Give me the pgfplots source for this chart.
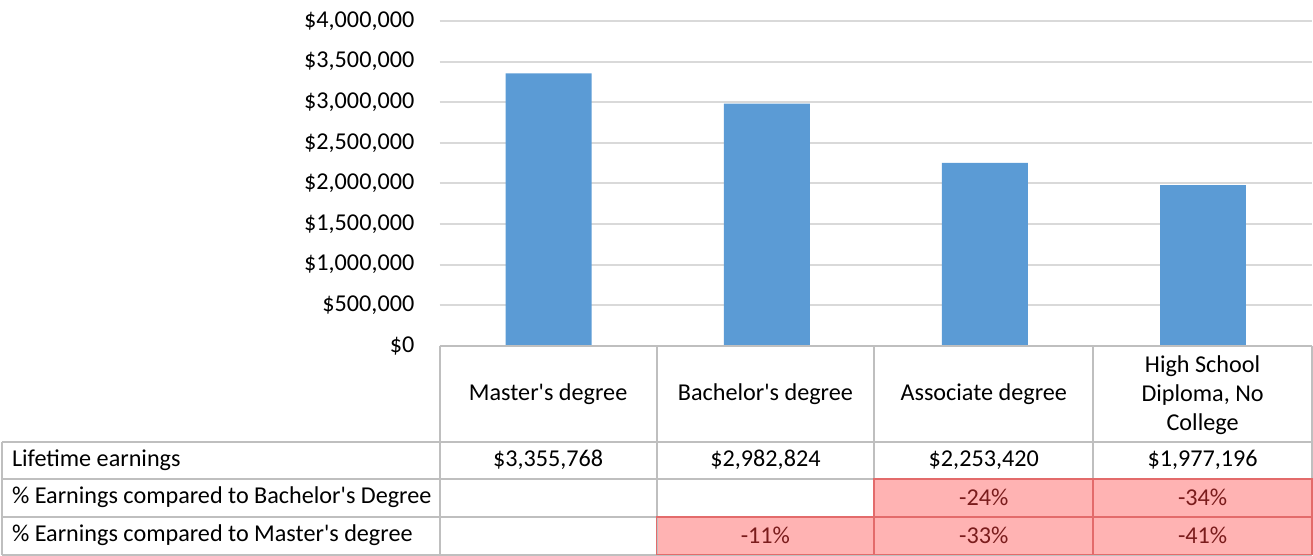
\documentclass[border=0pt]{standalone}
\usepackage{pgfplots}
\pgfplotsset{compat=1.18}
\usepackage{fontspec}
\setmainfont{Carlito}
\definecolor{barblue}{HTML}{5B9BD5}
\definecolor{gridgray}{HTML}{D9D9D9}
\definecolor{tabgray}{HTML}{BFBFBF}
\definecolor{pinkfill}{HTML}{FFB3B3}
\definecolor{pinkedge}{HTML}{E36B6B}
\definecolor{darkred}{HTML}{7A1C1C}
\newcommand{\q}{\textquotesingle}
\begin{document}
\begin{tikzpicture}[font=\fontsize{12.1}{14.3}\selectfont]
\begin{axis}[name=ax, width=436.5pt, height=162.5pt, scale only axis,
  xmin=-0.5, xmax=3.5, ymin=0, ymax=4000000,
  axis line style={draw=none}, xtick=\empty,
  ytick={0,500000,1000000,1500000,2000000,2500000,3000000,3500000,4000000},
  yticklabels={{\$0},{\$500,000},{\$1,000,000},{\$1,500,000},{\$2,000,000},{\$2,500,000},{\$3,000,000},{\$3,500,000},{\$4,000,000}},
  yticklabel style={font=\fontsize{12.1}{14}\selectfont, anchor=east, inner sep=0pt, xshift=-12.5pt},
  ymajorgrids, grid style={gridgray, line width=1pt}, major tick length=0pt,
  ybar, bar width=43pt, clip=false, scaled y ticks=false]
\addplot[fill=barblue, draw=none] coordinates {(0,3355768) (1,2982824) (2,2253420) (3,1977196)};
\end{axis}
\begin{scope}[shift={(ax.south west)}, x=0.5pt, y=-0.5pt]
  \useasboundingbox (-440,-346) rectangle (873.5,209.5);
  % pink cells
  \fill[pinkfill] (435,133) rectangle (873,171);
  \fill[pinkfill] (217,171) rectangle (873,209);
  % gray grid lines
  \begin{scope}[tabgray, line width=1pt]
    \draw (0,0) -- (873,0);
    \foreach \x in {0,217,435,654,873} \draw (\x,0) -- (\x,96);
    \foreach \y in {96,133,171,209} \draw (-438,\y) -- (873,\y);
    \foreach \x in {-438,0,217,435,654,873} \draw (\x,96) -- (\x,209);
  \end{scope}
  % red borders of pink cells
  \begin{scope}[pinkedge, line width=0.9pt]
    \draw (435,133) rectangle (654,171);
    \draw (654,133) rectangle (873,171);
    \draw (217,171) rectangle (435,209);
    \draw (435,171) rectangle (654,209);
    \draw (654,171) rectangle (873,209);
  \end{scope}
  % header texts
  \node at (108.5,48) {Master\q s degree};
  \node at (326,48) {Bachelor\q s degree};
  \node at (544.5,48) {Associate degree};
  \node[align=center] at (763.5,49.5) {High School\\Diploma, No\\College};
  % row labels
  \node[anchor=west] at (-435,114.5) {Lifetime earnings};
  \node[anchor=west] at (-435,152) {\% Earnings compared to Bachelor\q s Degree};
  \node[anchor=west] at (-435,190) {\% Earnings compared to Master\q s degree};
  % values
  \node at (108.5,114.5) {\$3,355,768};
  \node at (326,114.5) {\$2,982,824};
  \node at (544.5,114.5) {\$2,253,420};
  \node at (763.5,114.5) {\$1,977,196};
  \begin{scope}[darkred]
    \node at (544.5,152) {-24\%};
    \node at (763.5,152) {-34\%};
    \node at (326,190) {-11\%};
    \node at (544.5,190) {-33\%};
    \node at (763.5,190) {-41\%};
  \end{scope}
\end{scope}
\end{tikzpicture}
\end{document}
